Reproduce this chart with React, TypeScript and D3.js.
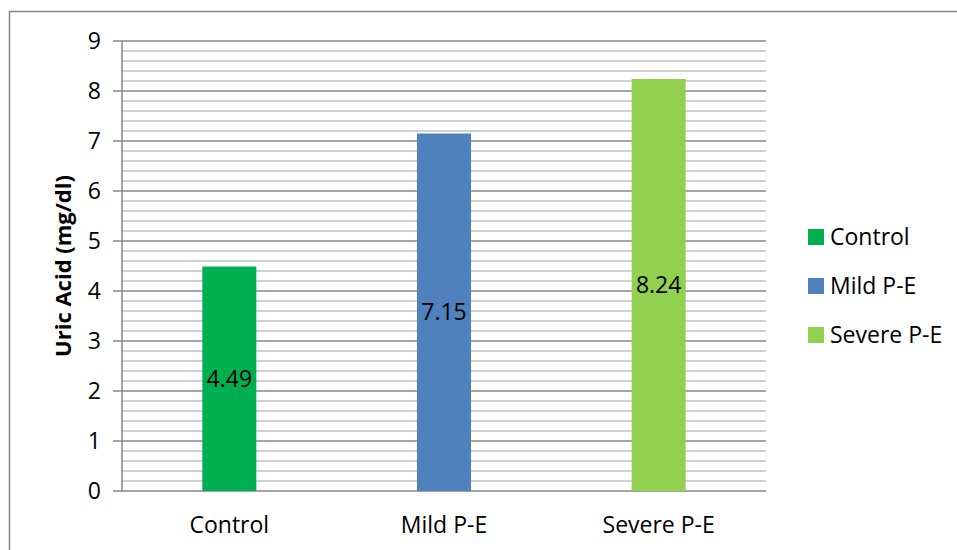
import React from "react";
import * as d3 from "d3";

const categories = ["Control", "Mild P-E", "Severe P-E"];
const values = [4.49, 7.15, 8.24];
const colors = ["#00B050", "#4F81BD", "#92D050"];
const yTicks = [0, 1, 2, 3, 4, 5, 6, 7, 8, 9];
const yTitle = "Uric Acid (mg/dl)";

const W = 957;
const H = 550;
const FONT = "'Open Sans', 'Noto Sans', sans-serif";

export default function App() {
  const left = 122;
  const right = 766;
  const top = 41;
  const bottom = 491;
  const x = d3.scaleBand<string>().domain(categories).range([left, right]).paddingInner(0).paddingOuter(0);
  const y = d3.scaleLinear().domain([0, 9]).range([bottom, top]);
  const minor = d3.range(0, 45).map((i) => i * 0.2).filter((v) => Math.abs(v - Math.round(v)) > 1e-6);
  const barW = 54;

  return (
    <svg width={W} height={H} style={{ position: "absolute", left: 0, top: 0, background: "#fff" }}>
      <rect x={9.5} y={11.5} width={W + 10} height={H + 10} fill="#fff" stroke="#868686" strokeWidth={1.5} />
      {minor.map((v) => (
        <line key={"m" + v} x1={left} x2={right} y1={y(v)} y2={y(v)} stroke="#c0c0c0" strokeWidth={1.5} />
      ))}
      {yTicks.map((v) => (
        <line key={"g" + v} x1={left - 9} x2={right} y1={y(v)} y2={y(v)} stroke="#868686" strokeWidth={1.5} />
      ))}
      <line x1={left} x2={left} y1={top} y2={bottom} stroke="#868686" strokeWidth={1.5} />
      {yTicks.map((v) => (
        <text key={"t" + v} x={101} y={y(v)} dy="0.35em" textAnchor="end" fontFamily={FONT} fontSize={23} fill="#000">
          {v}
        </text>
      ))}
      {categories.map((c, i) => {
        const cx = x(c)! + x.bandwidth() / 2;
        return (
          <g key={c}>
            <rect x={cx - barW / 2} y={y(values[i])} width={barW} height={bottom - y(values[i])} fill={colors[i]} />
            <text x={cx} y={(y(values[i]) + bottom) / 2} dy="0.35em" textAnchor="middle" fontFamily={FONT} fontSize={23} fill="#000">
              {values[i].toFixed(2)}
            </text>
            <text x={cx} y={525} dy="0.35em" textAnchor="middle" fontFamily={FONT} fontSize={23} fill="#000">
              {c}
            </text>
          </g>
        );
      })}
      <text
        transform={`translate(63, ${(top + bottom) / 2}) rotate(-90)`}
        dy="0.35em"
        textAnchor="middle"
        fontFamily={FONT}
        fontWeight="bold"
        fontSize={22}
        fill="#000"
      >
        {yTitle}
      </text>
      {categories.map((c, i) => (
        <g key={"l" + c} transform={`translate(808, ${237 + i * 49})`}>
          <rect x={0} y={-8} width={16} height={16} fill={colors[i]} />
          <text x={22} y={0} dy="0.35em" fontFamily={FONT} fontSize={23} fill="#000">
            {c}
          </text>
        </g>
      ))}
    </svg>
  );
}
